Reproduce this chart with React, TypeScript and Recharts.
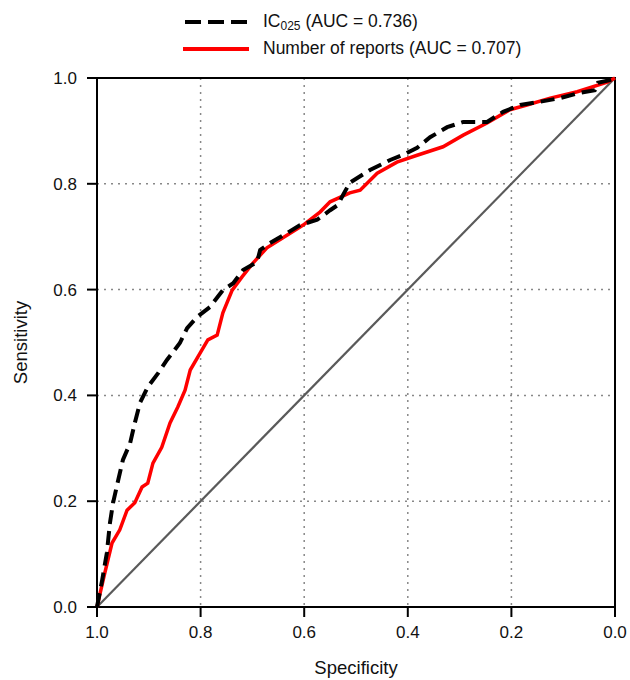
import React from "react";
import {
  LineChart,
  Line,
  XAxis,
  YAxis,
  CartesianGrid,
  ReferenceLine,
  ReferenceArea,
  Legend,
} from "recharts";

// ROC curve points (specificity, sensitivity)
const icSpec = [1.0, 0.99, 0.981, 0.975, 0.969, 0.959, 0.95, 0.936, 0.927, 0.917, 0.902, 0.882, 0.865, 0.84, 0.826, 0.807, 0.782, 0.757, 0.737, 0.718, 0.691, 0.685, 0.666, 0.633, 0.608, 0.575, 0.55, 0.535, 0.525, 0.512, 0.473, 0.434, 0.402, 0.382, 0.357, 0.324, 0.293, 0.247, 0.216, 0.183, 0.145, 0.106, 0.068, 0.039, 0.033, 0.01, 0.0];
const icSens = [0.0, 0.051, 0.102, 0.159, 0.197, 0.24, 0.278, 0.31, 0.348, 0.386, 0.416, 0.442, 0.467, 0.499, 0.527, 0.548, 0.567, 0.599, 0.612, 0.637, 0.652, 0.675, 0.688, 0.707, 0.722, 0.732, 0.75, 0.76, 0.779, 0.802, 0.826, 0.845, 0.858, 0.868, 0.888, 0.907, 0.917, 0.917, 0.936, 0.949, 0.955, 0.962, 0.972, 0.977, 0.991, 0.996, 1.0];

const nrSpec = [1.0, 0.994, 0.985, 0.971, 0.956, 0.942, 0.927, 0.913, 0.902, 0.892, 0.875, 0.859, 0.844, 0.83, 0.82, 0.801, 0.786, 0.768, 0.757, 0.739, 0.72, 0.699, 0.672, 0.641, 0.602, 0.569, 0.55, 0.512, 0.492, 0.459, 0.421, 0.382, 0.332, 0.293, 0.247, 0.203, 0.17, 0.125, 0.073, 0.015, 0.0];
const nrSens = [0.0, 0.026, 0.064, 0.121, 0.146, 0.183, 0.197, 0.227, 0.234, 0.272, 0.302, 0.348, 0.378, 0.41, 0.448, 0.48, 0.505, 0.514, 0.556, 0.599, 0.624, 0.65, 0.679, 0.698, 0.722, 0.747, 0.766, 0.783, 0.788, 0.82, 0.841, 0.854, 0.87, 0.892, 0.915, 0.94, 0.949, 0.962, 0.974, 0.992, 1.0];

const ticks = [0, 0.2, 0.4, 0.6, 0.8, 1.0];

const icData = icSpec.map((s, i) => ({ spec: s, sens: icSens[i] }));
const nrData = nrSpec.map((s, i) => ({ spec: s, sens: nrSens[i] }));

const font = "'Liberation Sans', Arial, sans-serif";

function LegendBox() {
  const row: React.CSSProperties = {
    display: "flex",
    alignItems: "center",
    height: 27,
    fontSize: 17.5,
    color: "#111",
  };
  return (
    <div style={{ fontFamily: font, marginLeft: 183 }}>
      <div style={row}>
        <svg width={66} height={10} style={{ marginRight: 14 }}>
          <line x1={2} y1={5} x2={64} y2={5} stroke="#000" strokeWidth={4} strokeDasharray="16 7" />
        </svg>
        <span>
          IC<sub style={{ fontSize: 12, verticalAlign: -3 }}>025</sub> (AUC = 0.736)
        </span>
      </div>
      <div style={row}>
        <svg width={66} height={10} style={{ marginRight: 14 }}>
          <line x1={0} y1={5} x2={66} y2={5} stroke="#ff0000" strokeWidth={4} />
        </svg>
        <span>Number of reports (AUC = 0.707)</span>
      </div>
    </div>
  );
}

export default function App() {
  return (
    <div style={{ position: "absolute", left: 0, top: 0, background: "#fff" }}>
      <LineChart
        width={630}
        height={680}
        margin={{ top: 24, right: 15, bottom: 28, left: 37 }}
      >
        <Legend
          verticalAlign="top"
          align="left"
          content={() => <LegendBox />}
          wrapperStyle={{ top: 8, left: 0 }}
        />
        <CartesianGrid stroke="#888" strokeDasharray="2 5" strokeWidth={1.5} />
        <XAxis
          type="number"
          dataKey="spec"
          domain={[0, 1]}
          reversed
          ticks={ticks}
          tickFormatter={(v: number) => v.toFixed(1)}
          axisLine={false}
          tickLine={{ stroke: "#000", strokeWidth: 2 }}
          tickSize={10}
          tickMargin={9}
          height={45}
          tick={{ fill: "#111", fontSize: 17, fontFamily: font }}
          label={{ value: "Specificity", position: "insideBottom", offset: -22, fill: "#111", fontSize: 18.5, fontFamily: font }}
        />
        <YAxis
          type="number"
          dataKey="sens"
          domain={[0, 1]}
          ticks={ticks}
          tickFormatter={(v: number) => v.toFixed(1)}
          axisLine={false}
          tickLine={{ stroke: "#000", strokeWidth: 2 }}
          tickSize={10}
          tickMargin={10}
          width={60}
          tick={{ fill: "#111", fontSize: 17, fontFamily: font }}
          label={{ value: "Sensitivity", angle: -90, position: "insideLeft", offset: -17, fill: "#111", fontSize: 18.5, fontFamily: font, style: { textAnchor: "middle" } }}
        />
        <ReferenceLine
          segment={[{ x: 1, y: 0 }, { x: 0, y: 1 }]}
          stroke="#5a5a5a"
          strokeWidth={2.2}
        />
        <Line
          data={nrData}
          dataKey="sens"
          stroke="#ff0000"
          strokeWidth={3.5}
          dot={false}
          type="linear"
          isAnimationActive={false}
        />
        <Line
          data={icData}
          dataKey="sens"
          stroke="#000"
          strokeWidth={4}
          strokeDasharray="14 7"
          dot={false}
          type="linear"
          isAnimationActive={false}
        />
        <ReferenceArea x1={1} x2={0} y1={0} y2={1} fill="none" stroke="#000" strokeWidth={2} />
      </LineChart>
    </div>
  );
}
